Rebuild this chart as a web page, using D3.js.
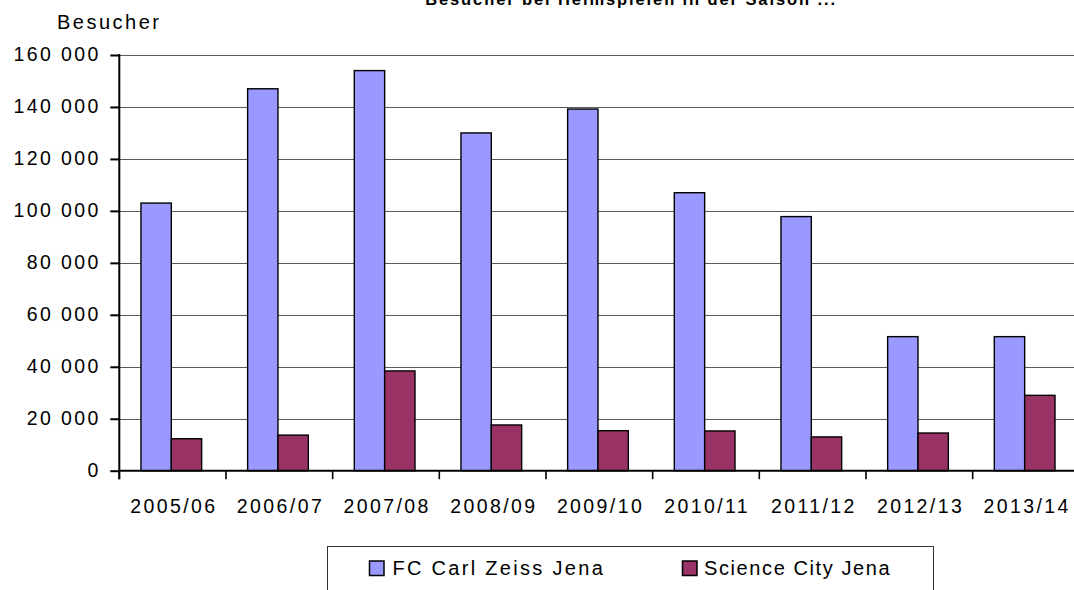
<!DOCTYPE html>
<html>
<head>
<meta charset="utf-8">
<script src="https://cdn.jsdelivr.net/npm/d3@7"></script>
<style>
  html, body { margin: 0; padding: 0; background: #fff; }
  svg { display: block; }
  text { font-family: "Liberation Sans", Arial, sans-serif; fill: #000; }
</style>
</head>
<body>
<svg id="chart" width="1074" height="590"></svg>
<script>
const categories = ["2005/06","2006/07","2007/08","2008/09","2009/10","2010/11","2011/12","2012/13","2013/14"];
const seriesNames = ["FC Carl Zeiss Jena","Science City Jena"];
const carlZeiss = [103000,147000,154000,130000,139200,107000,97800,51600,51600];
const scienceCity = [12300,13700,38400,17600,15400,15300,13000,14500,29000];
const yTicks = [0,20000,40000,60000,80000,100000,120000,140000,160000];
const titleText = "Besucher bei Heimspielen in der Saison ...";
const yTitle = "Besucher";
const colors = ["#9999FF","#993366"];

(function () {
const W = 1074, H = 590;
const svg = d3.select("#chart");
const plotLeft = 119.3, step = 106.67, plotTop = 55, plotBottom = 470.7;
const LS = 2.4;

const x0 = d3.scaleBand().domain(categories).range([plotLeft, plotLeft + step * categories.length]).padding(0);
const bw = x0.bandwidth();
const x1 = d3.scaleBand().domain(seriesNames).range([bw * 0.203, bw * 0.772]).padding(0);
const y = d3.scaleLinear().domain([0, 160000]).range([plotBottom, plotTop]);

const data = categories.map((c, i) => ({cat: c, vals: [carlZeiss[i], scienceCity[i]]}));

// gridlines
svg.append("g").selectAll("line").data(yTicks.filter(d => d > 0)).join("line")
  .attr("x1", plotLeft).attr("x2", W + 20)
  .attr("y1", d => Math.round(y(d)) + 0.5).attr("y2", d => Math.round(y(d)) + 0.5)
  .attr("stroke", "#5a5a5a").attr("stroke-width", 1);

// bars
const groups = svg.append("g").selectAll("g").data(data).join("g")
  .attr("transform", d => `translate(${x0(d.cat)},0)`);
groups.selectAll("rect").data(d => d.vals.map((v, j) => ({name: seriesNames[j], v, j}))).join("rect")
  .attr("x", d => x1(d.name))
  .attr("width", x1.bandwidth())
  .attr("y", d => y(d.v))
  .attr("height", d => plotBottom - y(d.v))
  .attr("fill", d => colors[d.j])
  .attr("stroke", "#000").attr("stroke-width", 1.4);

// y axis
const fmt = d3.formatLocale({decimal: ",", thousands: " ", grouping: [3], currency: ["", ""]}).format(",d");
const yAxis = d3.axisLeft(y).tickValues(yTicks).tickFormat(fmt).tickSize(9).tickSizeOuter(0).tickPadding(9.5);
const gy = svg.append("g").attr("transform", `translate(${plotLeft},0)`).call(yAxis);
gy.select(".domain").remove();
gy.selectAll(".tick line").attr("stroke", "#000").attr("stroke-width", 2);
gy.selectAll(".tick text")
  .attr("font-size", 19.5).attr("font-family", "Liberation Sans, Arial, sans-serif")
  .attr("letter-spacing", LS).attr("dy", "0.3em").attr("fill", "#000");
svg.append("line").attr("x1", plotLeft).attr("x2", plotLeft).attr("y1", plotTop - 1).attr("y2", plotBottom + 8.5)
  .attr("stroke", "#000").attr("stroke-width", 2);

// x axis
const xAxis = d3.axisBottom(x0).tickSize(0).tickSizeOuter(0).tickPadding(0);
const gx = svg.append("g").attr("transform", `translate(0,${plotBottom})`).call(xAxis);
gx.select(".domain").remove();
gx.selectAll(".tick text")
  .attr("y", 42.5).attr("dy", 0).attr("dx", LS / 2)
  .attr("font-size", 19.5).attr("font-family", "Liberation Sans, Arial, sans-serif")
  .attr("letter-spacing", LS).attr("fill", "#000");
svg.append("line").attr("x1", plotLeft).attr("x2", W + 20).attr("y1", plotBottom).attr("y2", plotBottom)
  .attr("stroke", "#000").attr("stroke-width", 2);
svg.append("g").selectAll("line").data(d3.range(categories.length + 1)).join("line")
  .attr("x1", i => plotLeft + i * step).attr("x2", i => plotLeft + i * step)
  .attr("y1", plotBottom).attr("y2", plotBottom + 8.5)
  .attr("stroke", "#000").attr("stroke-width", 1.6);

// titles
svg.append("text").attr("x", 631).attr("y", 5).attr("text-anchor", "middle")
  .attr("font-size", 16.5).attr("font-weight", "bold").attr("letter-spacing", 1.9)
  .text(titleText);
svg.append("text").attr("x", 57).attr("y", 29.3)
  .attr("font-size", 20).attr("letter-spacing", 2.5).text(yTitle);

// legend
svg.append("rect").attr("x", 327.5).attr("y", 546.5).attr("width", 606).attr("height", 60)
  .attr("fill", "#fff").attr("stroke", "#333").attr("stroke-width", 1);
const legendX = [369.5, 682.5];
const lg = svg.append("g").selectAll("g").data(seriesNames).join("g")
  .attr("transform", (d, i) => `translate(${legendX[i]},0)`);
lg.append("rect").attr("x", 0).attr("y", 561).attr("width", 14.5).attr("height", 14.5)
  .attr("fill", (d, i) => colors[i]).attr("stroke", "#000").attr("stroke-width", 1.5);
lg.append("text").attr("x", (d, i) => i === 0 ? 23 : 21.5).attr("y", 575)
  .attr("font-size", 20).attr("letter-spacing", (d, i) => i === 0 ? 2.3 : 1.6).text(d => d);
})();
</script>
</body>
</html>
